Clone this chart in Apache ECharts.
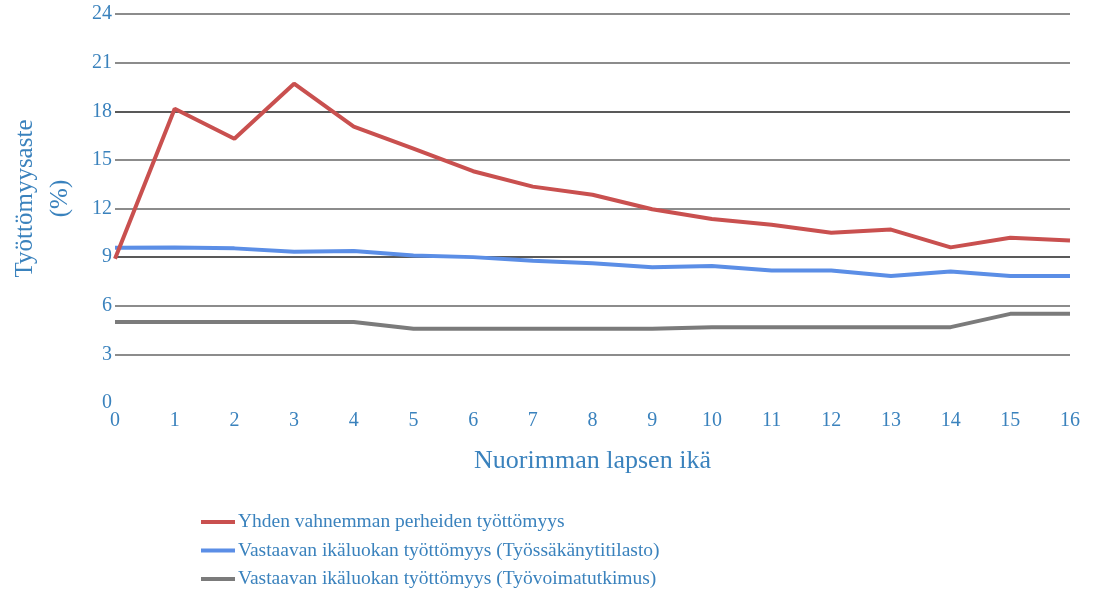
<!DOCTYPE html>
<html><head><meta charset="utf-8">
<script src="https://cdn.jsdelivr.net/npm/echarts@6/dist/echarts.min.js"></script>
<style>html,body{margin:0;padding:0;background:#fff}#c{width:1097px;height:589px}</style>
</head><body><div id="c"></div>
<script>
const categories = ['0','1','2','3','4','5','6','7','8','9','10','11','12','13','14','15','16'];
const seriesNames = ['Yhden vahnemman perheiden työttömyys','Vastaavan ikäluokan työttömyys (Työssäkänytitilasto)','Vastaavan ikäluokan työttömyys (Työvoimatutkimus)'];
const singleParent = [8.9,18.15,16.3,19.7,17.05,15.7,14.3,13.35,12.85,11.95,11.35,11.0,10.5,10.7,9.6,10.2,10.03];
const ageGroupRegister = [9.58,9.6,9.54,9.33,9.38,9.1,9.0,8.77,8.62,8.38,8.45,8.18,8.18,7.83,8.12,7.83,7.83];
const ageGroupSurvey = [5.0,5.0,5.0,5.0,5.0,4.58,4.58,4.58,4.58,4.58,4.68,4.68,4.68,4.68,4.68,5.5,5.5];
const colors = ['#c9504f','#5b8ee6','#7b7b7b'];
const font = 'Liberation Serif';
const textColor = '#3a82bd';
const chart = echarts.init(document.getElementById('c'));
const data = [singleParent, ageGroupRegister, ageGroupSurvey];
chart.setOption({
  animation:false,
  grid:{left:115,right:27,top:14,bottom:186,containLabel:false,outerBoundsMode:'none'},
  legend:{
    orient:'vertical', left:196, top:507, height:90, itemGap:8.5, itemWidth:34, itemHeight:4,
    icon:'rect',
    textStyle:{fontFamily:font,fontSize:19.5,color:textColor,padding:[0,0,0,-2]},
    data:seriesNames
  },
  xAxis:{
    type:'category', data:categories, boundaryGap:false,
    name:'Nuorimman lapsen ikä', nameLocation:'middle', nameGap:45,
    nameTextStyle:{fontFamily:font,fontSize:26,color:textColor},
    axisLine:{show:false}, axisTick:{show:false},
    axisLabel:{fontFamily:font,fontSize:20,color:textColor,margin:8},
    splitLine:{show:false}
  },
  yAxis:{
    type:'value', min:0, max:24, interval:3,
    name:'Työttömyysaste\n(%)', nameLocation:'middle', nameGap:37, nameRotate:90,
    nameTextStyle:{fontFamily:font,fontSize:25,color:textColor,lineHeight:35,padding:[0,0,0,20]},
    axisLine:{show:false}, axisTick:{show:false},
    axisLabel:{fontFamily:font,fontSize:20,color:textColor,margin:3},
    splitLine:{show:true,lineStyle:{width:1.5,color:['rgba(0,0,0,0)','#666','#666','#222','#666','#666','#222','#666','#666']}}
  },
  series: seriesNames.map((n,i)=>({
    name:n, type:'line', data:data[i], symbol:'none', smooth:false,
    lineStyle:{width:4,color:colors[i]}, itemStyle:{color:colors[i]}, z:3-i
  }))
});
</script></body></html>
